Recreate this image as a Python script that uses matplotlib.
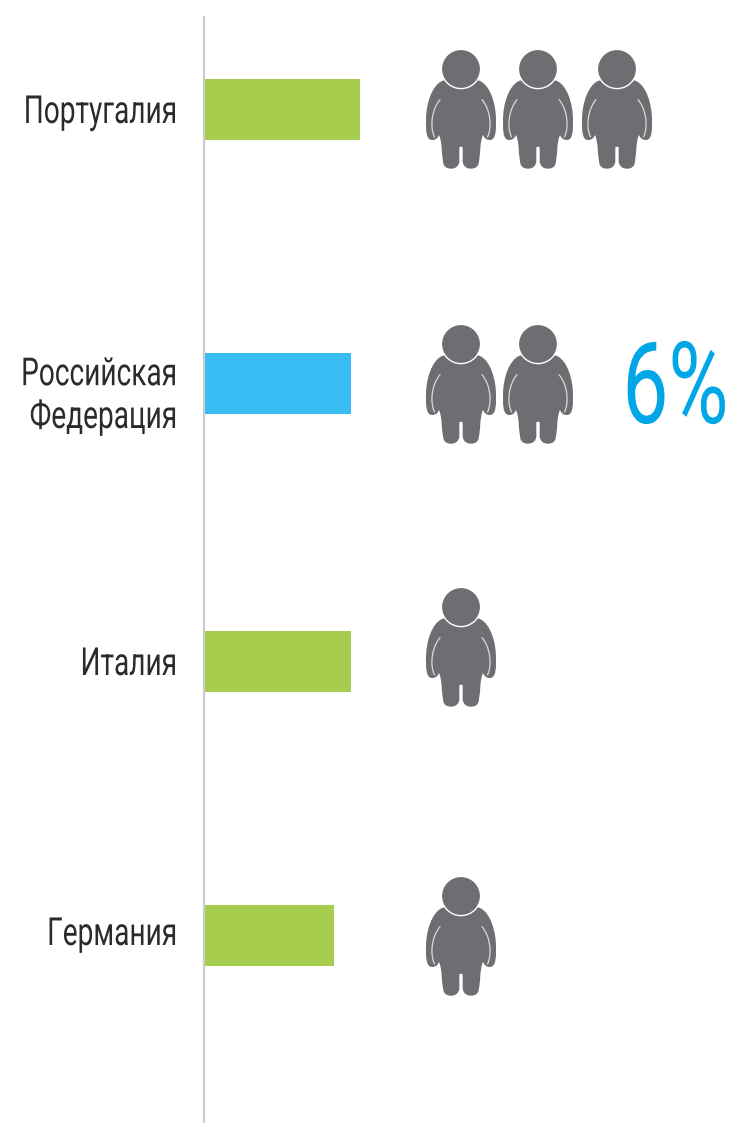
import matplotlib
matplotlib.use("Agg")
import matplotlib.pyplot as plt
from matplotlib.path import Path
from matplotlib.patches import PathPatch, Circle
from matplotlib.patheffects import AbstractPathEffect
from matplotlib.transforms import Affine2D

countries = ["Португалия", "Российская\nФедерация", "Италия", "Германия"]
values = [6.37, 6.0, 6.0, 5.3]
people = [3, 2, 1, 1]
highlight = "6%"

W, H = 736, 1123
PX_PER_UNIT = 24.45
row_y = [109.5, 383.5, 661.5, 935.5]
label_base = [123, 428, 675, 945]
head_y = [69, 344, 607, 896]
person_x = [461, 538, 617]
GREEN, BLUE, GREY = "#a6cd4e", "#38bdf2", "#6d6e71"
FONT = ["Roboto", "DejaVu Sans"]


class StretchY(AbstractPathEffect):
    """Draw text taller about a fixed baseline, to get a condensed look."""

    def __init__(self, factor, y_px):
        super().__init__()
        self.factor = factor
        self.y0 = H - y_px

    def draw_path(self, renderer, gc, tpath, affine, rgbFace=None):
        t = affine + Affine2D().translate(0, -self.y0).scale(1, self.factor).translate(0, self.y0)
        renderer.draw_path(gc, tpath, t, rgbFace)


fig = plt.figure(figsize=(W / 100, H / 100), dpi=100)
ax = fig.add_axes([0, 0, 1, 1])
ax.set_xlim(-204.5 / PX_PER_UNIT, (W - 204.5) / PX_PER_UNIT)
ax.set_ylim(H, 0)
ax.axis("off")

colors = [BLUE if c.startswith("Росс") else GREEN for c in countries]
ax.barh(row_y, values, height=61, color=colors, linewidth=0, zorder=2)
ax.plot([0, 0], [16, H], color="#cccccc", lw=1.6, zorder=3, solid_capstyle="butt")

ov = fig.add_axes([0, 0, 1, 1])
ov.set_xlim(0, W)
ov.set_ylim(H, 0)
ov.axis("off")
ov.patch.set_alpha(0)

for base, label in zip(label_base, countries):
    t = ov.text(176.5, base, label, ha="right", va="baseline", family=FONT,
                fontsize=20.2, color="#2b2b2b", linespacing=1.19)
    t.set_path_effects([StretchY(1.38, base)])


def half(points):
    return [((x - 153) / 3, (y - 87) / 3) for x, y in points]


right = half([(153, 118), (180, 118), (200, 118), (212, 124),
              (240, 138), (258, 190), (258, 240),
              (258, 262), (260, 300), (240, 300),
              (230, 300), (224, 296), (219, 285),
              (214, 296), (212, 310), (211, 325),
              (210, 345), (208, 358), (206, 370),
              (204, 380), (196, 386), (183, 386),
              (168, 386), (160, 378), (158, 365),
              (158, 350), (158, 335), (158, 322),
              (155, 320), (153, 320), (153, 320)])
left = [(-x, y) for x, y in reversed(right)]
verts = right + left[1:] + [right[0]]
codes = [Path.MOVETO] + [Path.CURVE4] * (len(right) + len(left) - 2) + [Path.CLOSEPOLY]
body = Path(verts, codes)
arc_r = half([(215, 178), (240, 205), (248, 260), (232, 292)])
arc_codes = [Path.MOVETO, Path.CURVE4, Path.CURVE4, Path.CURVE4]


def person(cx, cy):
    off = Affine2D().translate(cx, cy) + ov.transData
    ov.add_patch(PathPatch(body, fc=GREY, ec="none", transform=off))
    for sign in (1, -1):
        p = Path([(sign * x, y) for x, y in arc_r], arc_codes)
        ov.add_patch(PathPatch(p, fc="none", ec="#d9d9da", lw=0.9, transform=off))
    ov.add_patch(Circle((cx, cy), 19.6, fc=GREY, ec="white", lw=1.0, zorder=3))


for n, hy in zip(people, head_y):
    for i in range(n):
        person(person_x[i], hy)

h = ov.text(675.5, 423, highlight, ha="center", va="baseline", family=FONT,
            fontsize=59, color="#00a6e6")
h.set_path_effects([StretchY(1.39, 423)])

fig.savefig("out.png", dpi=100)
